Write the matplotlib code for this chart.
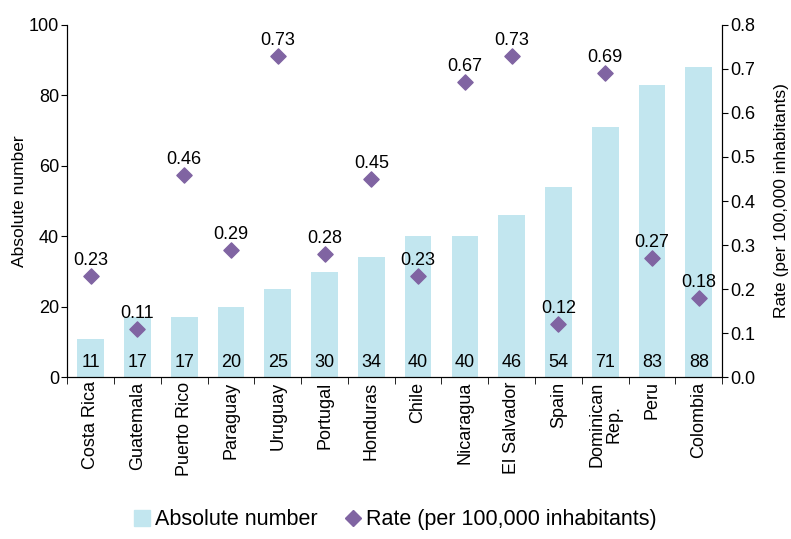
import numpy as np
import matplotlib.pyplot as plt
from matplotlib.lines import Line2D
from matplotlib.patches import Patch

plt.rcParams['font.family'] = ['Liberation Sans', 'DejaVu Sans']

countries = ['Costa Rica', 'Guatemala', 'Puerto Rico', 'Paraguay', 'Uruguay',
             'Portugal', 'Honduras', 'Chile', 'Nicaragua', 'El Salvador',
             'Spain', 'Dominican\nRep.', 'Peru', 'Colombia']
absolute = [11, 17, 17, 20, 25, 30, 34, 40, 40, 46, 54, 71, 83, 88]
rate = [0.23, 0.11, 0.46, 0.29, 0.73, 0.28, 0.45, 0.23, 0.67, 0.73, 0.12, 0.69, 0.27, 0.18]

bar_color = '#c2e6ef'
dot_color = '#8064a2'

fig = plt.figure(figsize=(7.91, 5.39), dpi=100)
ax = fig.add_axes([0.085, 0.300, 0.828, 0.654])
ax2 = ax.twinx()

x = np.arange(len(countries))
ax.bar(x, absolute, width=0.57, color=bar_color, zorder=1)
for xi, v in zip(x, absolute):
    ax.text(xi, 4.3, str(v), ha='center', va='center', fontsize=13)

ax2.scatter(x, rate, marker='D', s=60, color=dot_color, zorder=3)
for xi, r in zip(x, rate):
    ax2.text(xi, r + 0.025, f'{r:.2f}', ha='center', va='baseline', fontsize=13)

ax.set_xlim(-0.5, len(countries) - 0.5)
ax.set_ylim(0, 100)
ax2.set_ylim(0, 0.8)
ax.set_yticks(np.arange(0, 101, 20))
ax2.set_yticks(np.arange(0, 0.81, 0.1))
ax2.set_yticklabels([f'{t:.1f}' for t in np.arange(0, 0.81, 0.1)])

ax.set_xticks(x)
ax.set_xticklabels(countries, rotation=90, fontsize=13, linespacing=1.0)
ax.tick_params(axis='x', length=0, pad=3)
ax.set_xticks(np.arange(-0.5, len(countries) + 0.5, 1), minor=True)
ax.tick_params(axis='x', which='minor', length=5, direction='out')

ax.tick_params(axis='y', labelsize=13, length=4, direction='out', pad=2)
ax2.tick_params(axis='y', labelsize=13, length=4, direction='out', pad=2)

for a in (ax, ax2):
    a.spines['top'].set_visible(False)
ax.set_ylabel('Absolute number', fontsize=12.5, labelpad=1)
ax2.set_ylabel('Rate (per 100,000 inhabitants)', fontsize=12.5, labelpad=13)

handles = [Patch(color=bar_color, label='Absolute number'),
           Line2D([], [], marker='D', color=dot_color, linestyle='none',
                  markersize=8, label='Rate (per 100,000 inhabitants)')]
fig.legend(handles=handles, loc='lower center', bbox_to_anchor=(0.5, -0.02),
           ncol=2, frameon=False, fontsize=15.5, handlelength=0.75,
           handleheight=0.75, handletextpad=0.25, columnspacing=1.25)

fig.savefig('out.png', dpi=100)
